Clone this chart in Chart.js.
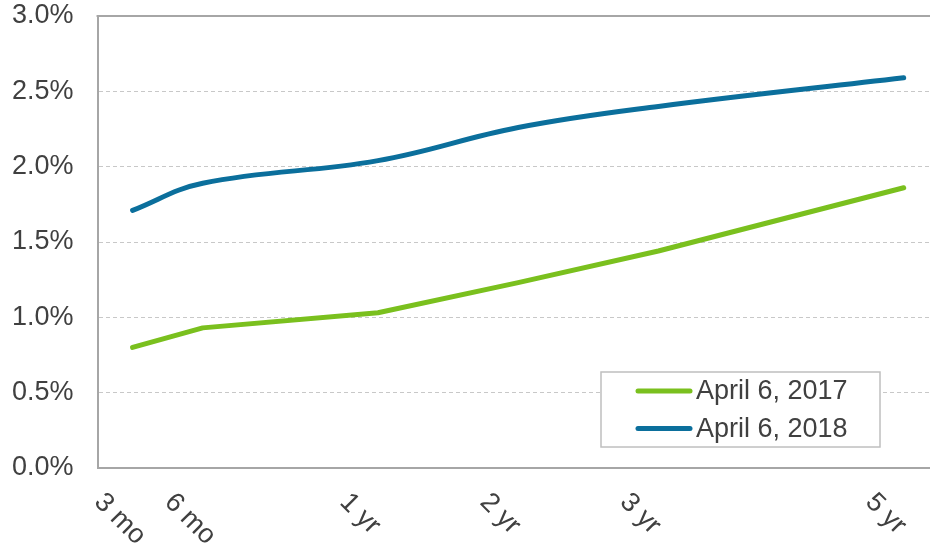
<!DOCTYPE html>
<html>
<head>
<meta charset="utf-8">
<script src="https://cdn.jsdelivr.net/npm/chart.js@4.4.1/dist/chart.umd.min.js"></script>
<style>
  html, body { margin: 0; padding: 0; background: #fff; }
  #wrap { width: 930px; height: 544px; }
</style>
</head>
<body>
<div id="wrap"><canvas id="chartCurva" width="930" height="544"></canvas></div>
<script>
    // Maturidades e slot no eixo original (espaçamento não linear)
    const tenors = ['3 mo', '6 mo', '1 yr', '2 yr', '3 yr', '5 yr'];
    const tenorSlot = [1, 3, 8, 12, 16, 23];

    // Rendimentos (%)
    const seriesLabels = ['April 6, 2017', 'April 6, 2018'];
    const yields2017 = [0.80, 0.93, 1.03, 1.23, 1.44, 1.86];
    const yields2018 = [1.71, 1.89, 2.04, 2.26, 2.40, 2.59];

    const yTicks = [0, 0.5, 1, 1.5, 2, 2.5, 3];

    const textColor = '#404040';
    const fontFamily = "'Liberation Sans', Arial, sans-serif";

    const toPoints = vals => vals.map((v, i) => ({ x: tenorSlot[i], y: v }));

    // Eixo x, borda superior e legenda desenhados à mão
    const extras = {
        id: 'extras',
        afterDatasetsDraw(chart) {
            const ctx = chart.ctx;
            const area = chart.chartArea;
            const xs = chart.scales.x;

            ctx.save();
            // borda superior
            ctx.strokeStyle = '#A6A6A6';
            ctx.lineWidth = 2;
            ctx.beginPath();
            ctx.moveTo(area.left - 1, area.top);
            ctx.lineTo(area.right, area.top);
            ctx.stroke();

            // legenda
            const lx = 601, ly = 372, lw = 279, lh = 75;
            ctx.fillStyle = '#fff';
            ctx.fillRect(lx, ly, lw, lh);
            ctx.strokeStyle = '#BFBFBF';
            ctx.lineWidth = 1.5;
            ctx.strokeRect(lx, ly, lw, lh);
            ctx.font = '27px ' + fontFamily;
            ctx.textBaseline = 'middle';
            ctx.textAlign = 'left';
            chart.data.datasets.forEach((ds, i) => {
                const rowY = 391 + i * 37.5;
                ctx.strokeStyle = ds.borderColor;
                ctx.lineWidth = 5;
                ctx.lineCap = 'round';
                ctx.beginPath();
                ctx.moveTo(638, rowY);
                ctx.lineTo(690, rowY);
                ctx.stroke();
                ctx.fillStyle = textColor;
                ctx.fillText(ds.label, 696, rowY + 1);
            });

            // rótulos do eixo x, inclinados para baixo
            ctx.fillStyle = textColor;
            tenors.forEach((t, i) => {
                const px = xs.getPixelForValue(tenorSlot[i]);
                ctx.save();
                ctx.translate(px - 34, 498);
                ctx.rotate(Math.PI / 4);
                ctx.fillText(t, 0, 0);
                ctx.restore();
            });
            ctx.restore();
        }
    };

    new Chart(document.getElementById('chartCurva'), {
        type: 'line',
        data: {
            datasets: [{
                label: seriesLabels[0],
                data: toPoints(yields2017),
                borderColor: '#7AC01E',
                backgroundColor: '#7AC01E',
                borderWidth: 5,
                borderCapStyle: 'round',
                borderJoinStyle: 'round',
                pointRadius: 0,
                tension: 0,
                fill: false
            }, {
                label: seriesLabels[1],
                data: toPoints(yields2018),
                borderColor: '#0B6F9C',
                backgroundColor: '#0B6F9C',
                borderWidth: 5,
                borderCapStyle: 'round',
                borderJoinStyle: 'round',
                pointRadius: 0,
                tension: 0.4,
                fill: false
            }]
        },
        options: {
            responsive: false,
            animation: false,
            layout: { padding: { left: -12, right: 0, top: 16, bottom: 76 } },
            plugins: {
                legend: { display: false },
                tooltip: { enabled: false }
            },
            scales: {
                x: {
                    type: 'linear',
                    min: 0,
                    max: 23.75,
                    ticks: { display: false },
                    grid: { display: false, drawTicks: false },
                    border: { display: true, color: '#A6A6A6', width: 2 }
                },
                y: {
                    min: 0,
                    max: 3,
                    afterBuildTicks: axis => { axis.ticks = yTicks.map(v => ({ value: v })); },
                    afterFit: axis => { axis.paddingTop = 0; axis.paddingBottom = 0; },
                    ticks: {
                        padding: 24,
                        color: textColor,
                        font: { size: 27, family: fontFamily },
                        callback: v => v.toFixed(1) + '%'
                    },
                    grid: {
                        drawTicks: false,
                        lineWidth: 1,
                        color: ctx => (ctx.tick && (ctx.tick.value === 0 || ctx.tick.value === 3)) ? 'rgba(0,0,0,0)' : '#C8C8C8'
                    },
                    border: { display: true, color: '#A6A6A6', width: 2, dash: [4, 3] }
                }
            }
        },
        plugins: [extras]
    });
</script>
</body>
</html>
